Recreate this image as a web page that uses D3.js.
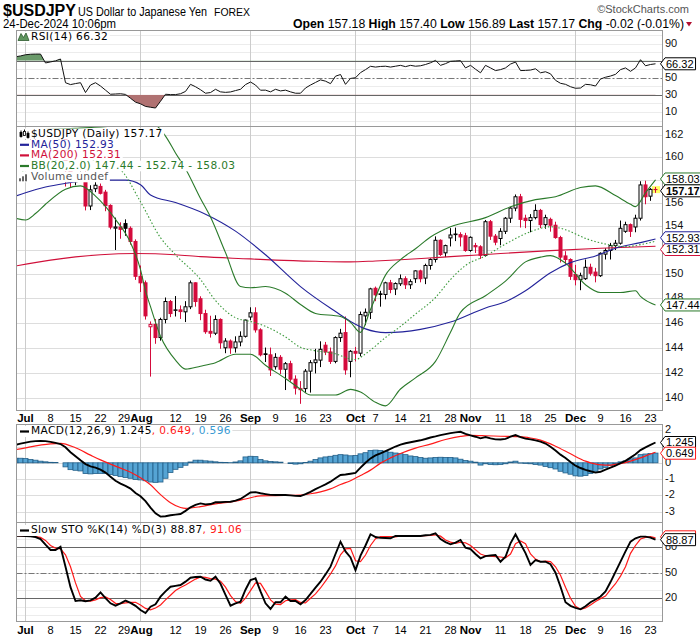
<!DOCTYPE html>
<html><head><meta charset="utf-8">
<script src="https://cdn.jsdelivr.net/npm/d3@7/dist/d3.min.js"></script>
<style>html,body{margin:0;padding:0;background:#fff;}svg{display:block;}</style>
</head><body>
<script>
// ================= DATA =================
const firstDay = "2024-06-27", lastDay = "2024-12-24";   // daily forex bars (Mon-Fri)

const open = [
 160.75,160.72,
 160.88,161.47,161.45,161.42,161.23, 160.78,160.83,161.32,161.68,158.83, 157.85,158.07,158.36,155.75,157.25, 157.45,156.95,155.80,153.85,153.95, 154.24,153.84,152.72,
 149.80,149.26, 145.67,145.86,144.80,146.26,147.72, 147.00,147.04,146.88,147.29,149.26, 147.95,146.74,145.30,145.15,146.26, 143.98,144.52,143.98,144.45,144.90,
 146.46,146.80,145.42,143.50,143.42, 142.48,143.22,142.28,142.72,141.50, 140.68,140.76,142.13,142.80,143.00, 144.19,143.65,142.90,144.80,145.20, 142.90,
 143.70,143.55,146.55,146.84, 148.81,148.35,148.30,149.26,148.75, 149.18,149.60,149.10,149.60,150.25, 149.65,150.70,151.20,152.82,151.76, 153.02,153.35,153.30,153.20,
 151.96, 152.37,152.27,151.55,154.40,153.17, 152.97,153.58,154.70,155.57,156.55, 154.70,154.50,154.75,155.37,154.15, 154.60,154.10,153.05,151.50,151.20,
 149.95,149.52,149.60,150.55,150.15, 149.85,151.65,151.96,152.37,152.57, 153.58,154.15,153.95,154.70,157.58, 156.60,157.18];
const high = [
 160.87,161.27,
 161.72,161.75,161.95,161.55,161.30, 161.05,161.45,161.78,161.76,159.45, 158.40,158.85,158.86,157.55,157.85, 157.70,157.15,155.90,154.75,154.35, 154.60,154.00,152.90,
 150.70,149.45, 146.10,146.30,146.40,148.05,147.85, 148.17,147.40,147.75,149.45,149.30, 148.15,147.05,146.56,146.60,146.35, 144.75,144.65,144.90,145.30,146.25,
 147.25,147.25,145.55,144.00,144.00, 143.55,143.40,142.85,142.95,141.80, 141.35,142.30,143.00,143.90,144.50, 144.45,144.00,144.90,145.50,146.50, 143.80,
 144.05,146.90,147.15,148.85, 148.95,148.60,149.35,149.50,149.30, 149.95,149.80,149.55,150.30,150.35, 150.85,151.30,153.15,152.90,152.45, 153.85,153.90,153.50,153.45,
 153.15, 152.60,152.40,154.55,154.55,153.35, 153.85,154.80,155.65,156.75,156.80, 155.00,155.05,155.90,155.50,155.00, 154.75,154.40,153.20,151.90,151.30,
 150.75,150.10,151.20,150.85,150.50, 151.80,152.15,152.60,152.85,154.50, 154.40,154.25,155.00,157.90,157.95, 157.30,157.40];
const low = [
 160.30,160.45,
 160.82,161.20,161.10,160.95,160.25, 160.30,160.80,161.20,157.44,157.38, 157.55,157.90,155.37,155.40,156.95, 156.75,155.30,153.75,152.00,152.95, 153.20,152.45,149.50,
 148.50,146.25, 141.70,144.30,144.55,145.95,146.45, 146.50,146.30,146.05,147.10,147.30, 146.20,145.10,144.80,145.00,143.90, 143.55,143.50,143.60,144.10,144.80,
 146.20,145.20,143.30,142.85,141.75, 142.25,141.90,140.65,141.30,140.30, 139.58,140.45,140.45,141.95,142.45, 143.40,142.70,142.75,144.45,141.85, 141.65,
 142.90,143.30,145.80,146.30, 147.75,147.30,147.90,148.40,148.25, 149.00,148.75,148.75,149.25,149.30, 149.15,150.35,150.95,151.50,151.40, 152.30,152.75,152.30,151.85,
 151.85, 151.75,151.25,151.45,152.85,152.40, 152.40,153.35,154.30,155.30,153.90, 153.85,153.50,154.60,153.85,153.80, 153.55,152.95,150.95,150.75,149.50,
 149.05,148.65,149.50,149.85,149.30, 149.75,151.20,151.20,152.00,152.45, 153.45,153.10,153.50,154.50,155.90, 156.20,156.89];
const close = [
 160.72,160.88,
 161.47,161.45,161.42,161.23,160.78, 160.83,161.32,161.68,158.83,157.85, 158.07,158.36,155.75,157.15,157.55, 156.85,155.78,153.94,153.95,153.75, 153.84,152.72,149.80,
 149.26,146.55, 145.86,144.80,146.26,147.72,146.74, 147.04,146.90,147.29,149.26,147.72, 146.74,145.27,145.15,146.26,144.38, 144.52,143.98,144.45,144.90,146.21,
 146.80,145.42,143.42,143.45,142.23, 143.22,142.28,142.72,141.50,140.80, 140.76,142.13,142.80,143.02,143.86, 143.65,142.90,144.80,145.15,142.23, 143.70,
 143.55,146.66,146.84,148.76, 148.27,148.30,149.26,148.71,149.20, 149.60,149.10,149.36,150.25,149.60, 150.70,151.20,152.82,151.62,152.37, 153.27,153.30,153.10,151.96,
 153.07, 152.27,151.55,154.40,153.17,152.66, 153.58,154.70,155.57,156.55,154.60, 154.50,154.75,155.37,154.15,154.75, 154.10,153.05,151.40,151.20,149.80,
 149.52,149.85,150.55,150.05,149.85, 151.72,151.96,152.37,152.57,153.84, 154.15,153.58,154.70,157.58,156.55, 157.19,157.17];

const rsi = [
 74.5,75.5,
 76.9,77.5,77.7,77.7,67.3, 68.5,69.8,71.9,44.2,42.0, 43.2,44.2,32.7,41.5,44.2, 40.3,35.5,30.7,31.0,31.3, 30.5,26.0,21.5,
 19.5,16.5, 15.5,14.6,22.5,30.7,30.3, 30.3,31.3,34.0,42.3,39.5, 36.0,31.9,32.7,36.5,33.5, 32.9,33.4,35.0,36.5,42.0,
 45.0,41.5,35.4,35.5,33.5, 36.5,34.6,35.5,33.5,31.9, 31.9,38.0,41.5,44.5,47.5, 46.0,43.1,51.8,53.8,42.3, 49.2,
 50.0,56.0,59.5,63.4, 62.5,63.2,63.5,62.5,63.5, 64.5,63.0,64.5,63.5,64.0, 65.5,67.5,70.3,64.5,66.5, 69.2,69.6,70.0,61.5,
 64.5, 60.0,55.8,64.5,61.5,58.4, 59.5,61.5,66.0,68.4,58.4, 58.6,59.0,60.5,55.8,57.0, 54.6,47.0,43.5,42.3,39.5,
 37.7,38.0,42.3,41.8,40.3, 48.5,50.6,52.0,54.0,59.5, 61.5,57.5,61.5,71.1,64.0, 65.5,66.32];

const macd = [
 1.10,1.18,
 1.24,1.30,1.33,1.34,1.33, 1.28,1.22,1.15,0.95,0.65, 0.40,0.15,-0.08,-0.22,-0.30, -0.42,-0.60,-0.85,-1.10,-1.28, -1.42,-1.58,-1.85,
 -2.05,-2.35, -2.75,-3.10,-3.30,-3.28,-3.22, -3.18,-3.14,-2.95,-2.73,-2.58, -2.49,-2.55,-2.53,-2.42,-2.42, -2.40,-2.39,-2.32,-2.22,-2.02,
 -1.82,-1.80,-1.87,-1.92,-1.97, -1.98,-1.98,-1.98,-2.00,-2.03, -2.04,-1.92,-1.78,-1.62,-1.47, -1.32,-1.16,-0.95,-0.75,-0.72, -0.67,
 -0.62,-0.30,0.00,0.27, 0.45,0.58,0.72,0.85,1.00, 1.12,1.20,1.26,1.32,1.38, 1.46,1.55,1.62,1.70,1.76, 1.82,1.87,1.90,1.78,
 1.68, 1.60,1.50,1.58,1.50,1.44, 1.43,1.47,1.60,1.70,1.58, 1.48,1.44,1.38,1.30,1.18, 0.98,0.75,0.50,0.30,0.05,
 -0.18,-0.32,-0.43,-0.52,-0.60, -0.55,-0.42,-0.30,-0.18,-0.02, 0.12,0.32,0.52,0.78,0.95, 1.10,1.245];
const macdHist = [
 0.28,0.28,
 0.26,0.20,0.16,0.10,0.06, 0.03,0.02,0.00,-0.25,-0.42, -0.46,-0.50,-0.66,-0.68,-0.66, -0.65,-0.66,-0.72,-0.78,-0.85, -0.90,-0.95,-1.02,
 -1.05,-1.10, -1.18,-1.20,-1.18,-0.95,-0.60, -0.40,-0.28,-0.15,0.05,0.16, 0.16,0.12,0.10,0.06,0.03, 0.02,0.01,0.05,0.12,0.36,
 0.40,0.38,0.20,0.12,0.08, 0.06,0.04,0.00,-0.05,-0.08, -0.06,0.02,0.10,0.20,0.30, 0.36,0.40,0.46,0.50,0.48, 0.43,
 0.45,0.55,0.62,0.76, 0.78,0.76,0.70,0.65,0.60, 0.56,0.50,0.42,0.38,0.32, 0.28,0.30,0.33,0.34,0.33, 0.33,0.30,0.22,0.14,
 0.10, 0.04,-0.14,-0.06,-0.10,-0.12, -0.10,-0.06,0.05,0.10,-0.02, -0.04,-0.06,-0.10,-0.14,-0.22, -0.30,-0.38,-0.52,-0.62,-0.70,
 -0.80,-0.82,-0.78,-0.66,-0.52, -0.38,-0.28,-0.16,-0.05,0.06, 0.12,0.24,0.30,0.50,0.54, 0.57,0.596];

const stoK = [
 93.5,93.3,
 93.2,92.8,92.0,89.6,83.0, 76.7,76.7,80.6,57.0,33.0, 16.7,17.5,16.5,17.5,20.6, 26.9,20.0,14.0,11.2,14.0, 17.1,14.5,11.0,
 6.1,2.5, 10.0,12.8,21.8,28.0,33.5, 34.5,35.5,39.5,44.1,45.0, 45.3,42.0,40.6,45.3,37.0, 24.0,11.2,14.0,15.9,30.0,
 41.4,43.4,28.0,14.0,7.3, 15.2,15.2,21.8,16.7,16.7, 12.8,17.9,25.0,32.5,39.4, 48.0,57.1,72.0,86.5,75.0, 68.0,
 53.0,70.0,82.0,95.2, 92.0,91.0,90.8,90.5,93.2, 93.2,93.2,93.2,93.2,93.2, 94.0,94.5,96.4,89.6,86.0, 83.4,85.5,88.5,79.4,
 77.9, 72.0,66.9,69.5,70.3,70.8, 62.9,68.8,84.6,95.2,84.0, 73.0,59.1,64.9,62.9,62.9, 60.0,50.0,33.5,15.2,11.0,
 8.5,6.9,10.5,15.2,18.5, 22.0,28.0,39.0,51.0,63.0, 75.0,86.5,90.5,92.4,92.4, 91.2,88.87];
const stoD = [
 93.5,93.4,
 93.3,93.0,92.5,91.5,88.0, 82.0,79.0,78.0,71.0,57.0, 38.0,22.0,17.0,16.5,18.0, 20.6,21.5,18.5,14.0,13.5, 14.5,15.0,15.2,
 12.0,8.0, 6.3,8.5,12.0,18.0,23.5, 29.0,32.5,35.5,39.0,42.5, 45.0,44.5,43.0,42.5,40.0, 33.0,23.0,16.0,14.0,20.0,
 29.0,38.0,37.5,28.0,18.0, 13.0,12.5,17.0,18.0,18.2, 15.0,14.5,20.0,25.0,32.0, 40.0,48.5,58.0,71.0,78.0, 78.7,
 64.0,63.0,70.8,82.0, 90.0,92.4,92.6,92.4,92.2, 93.2,93.2,93.2,93.2,93.4, 93.6,94.0,94.6,93.0,88.5, 86.0,84.5,85.8,85.2,
 82.0, 77.0,72.0,70.0,69.5,68.8, 68.5,67.5,72.0,84.0,87.3, 84.0,72.0,66.0,62.9,63.5, 63.0,57.0,47.0,33.0,20.0,
 10.5,7.0,8.5,12.0,16.0, 19.5,22.5,30.0,37.0,46.0, 57.0,72.8,82.0,89.6,91.5, 92.4,91.06];

// smooth overlays sampled on given days: [MM-DD, value]
const ma50 = [["06-27",156.6],["07-01",156.9],["07-05",157.4],["07-11",157.72],["07-18",158.0],["07-29",158.0],["08-01",157.6],["08-05",156.71],["08-12",156.05],["08-20",155.05],["08-28",153.6],["09-05",151.6],["09-16",148.95],["09-25",146.9],["09-30",146.1],["10-03",145.5],["10-09",145.2],["10-18",145.46],["10-28",146.05],["11-06",147.2],["11-12",147.7],["11-18",148.6],["11-25",150.1],["11-29",150.94],["12-06",151.5],["12-12",152.15],["12-19",152.62],["12-24",152.93]];
const ma200 = [["06-27",150.65],["07-08",151.15],["07-15",151.42],["07-22",151.6],["07-31",151.7],["08-12",151.6],["08-19",151.44],["09-02",151.25],["09-09",151.15],["09-19",151.05],["09-30",151.0],["10-07",151.08],["10-21",151.3],["10-28",151.44],["11-11",151.7],["11-25",151.95],["12-09",152.15],["12-24",152.31]];
const bbUpper = [["06-27",162.4],["07-15",162.6],["07-29",162.9],["08-02",163.1],["08-06",162.9],["08-08",161.9],["08-12",160.4],["08-14",159.0],["08-19",156.4],["08-21",154.8],["08-26",151.78],["08-29",148.95],["09-02",148.85],["09-05",148.95],["09-11",148.4],["09-16",147.48],["09-19",146.75],["09-26",146.5],["09-30",146.02],["10-02",145.22],["10-04",147.07],["10-09",149.9],["10-14",151.19],["10-17",152.1],["10-22",153.1],["10-28",153.97],["11-06",154.75],["11-13",155.68],["11-20",156.3],["11-26",156.55],["12-03",157.35],["12-06",157.5],["12-12",156.65],["12-17",155.9],["12-18",155.7],["12-20",156.9],["12-24",158.03]];
const bbMid = [["06-27",158.5],["07-08",159.6],["07-15",160.1],["07-19",159.7],["07-24",159.3],["07-26",158.9],["08-01",156.11],["08-07",153.04],["08-12",151.6],["08-19",149.53],["08-22",147.8],["08-28",146.4],["09-02",146.1],["09-05",145.7],["09-11",144.85],["09-16",144.02],["09-19",143.75],["09-25",143.5],["09-30",143.1],["10-01",143.05],["10-03",143.5],["10-09",144.8],["10-14",145.7],["10-17",146.7],["10-23",148.05],["10-28",149.53],["10-31",150.7],["11-06",151.5],["11-12",152.5],["11-19",153.55],["11-25",153.97],["11-28",153.72],["12-04",152.98],["12-10",152.5],["12-16",152.28],["12-19",152.45],["12-24",152.74]];
const bbLower = [["06-27",154.7],["07-01",154.55],["07-03",155.1],["07-05",155.9],["07-11",157.2],["07-16",157.5],["07-19",156.6],["07-25",154.6],["07-30",152.62],["08-01",150.36],["08-02",148.6],["08-05",147.3],["08-07",144.9],["08-12",143.0],["08-14",142.29],["08-19",142.52],["08-22",142.8],["08-28",143.47],["09-02",143.47],["09-05",142.6],["09-11",141.55],["09-16",140.73],["09-18",140.26],["09-25",140.26],["09-30",140.7],["10-02",140.49],["10-07",139.7],["10-09",139.42],["10-14",140.73],["10-17",141.6],["10-23",142.9],["10-28",145.22],["10-30",146.83],["11-06",148.2],["11-12",149.4],["11-18",151.0],["11-21",151.4],["11-25",151.53],["11-28",150.9],["12-04",149.1],["12-09",148.46],["12-13",148.46],["12-18",148.6],["12-19",148.14],["12-24",147.44]];
const macdSignal = [["06-27",0.80],["07-01",0.92],["07-08",1.16],["07-10",1.19],["07-15",0.92],["07-18",0.47],["07-22",0.18],["07-24",-0.08],["07-26",-0.33],["07-30",-0.58],["08-01",-0.92],["08-05",-1.35],["08-07",-1.95],["08-09",-2.45],["08-13",-2.74],["08-14",-2.79],["08-19",-2.69],["08-22",-2.52],["08-27",-2.4],["08-30",-2.22],["09-04",-2.03],["09-09",-2.01],["09-16",-1.98],["09-18",-1.9],["09-20",-1.78],["09-24",-1.6],["09-26",-1.33],["09-30",-1.1],["10-02",-0.78],["10-04",-0.45],["10-08",-0.02],["10-10",0.3],["10-14",0.57],["10-17",0.9],["10-22",1.15],["10-25",1.43],["10-30",1.62],["11-01",1.68],["11-06",1.66],["11-11",1.63],["11-15",1.6],["11-19",1.52],["11-21",1.39],["11-26",1.02],["11-29",0.55],["12-04",0.1],["12-05",0.0],["12-10",-0.14],["12-11",-0.14],["12-13",-0.05],["12-17",0.1],["12-19",0.3],["12-23",0.54],["12-24",0.649]];

// axes / labels
const xTickLabels = [["07-01","Jul"],["07-08","8"],["07-15","15"],["07-22","22"],["07-29","29"],["08-01","Aug"],["08-12","12"],["08-19","19"],["08-26","26"],["09-02","Sep"],["09-09","9"],["09-16","16"],["09-23","23"],["10-01","Oct"],["10-07","7"],["10-14","14"],["10-21","21"],["10-28","28"],["11-01","Nov"],["11-11","11"],["11-18","18"],["11-25","25"],["12-02","Dec"],["12-09","9"],["12-16","16"],["12-23","23"]];
const monthStarts = ["07-01","08-01","09-02","10-01","11-01","12-02"];
const priceGrid = [140,142,144,146,148,150,152,154,156,158,160,162];
const priceTicks = [140,142,144,146,148,150,152,154,156,160,162];   // 158 sits behind the BB value tag
const rsiTicks = [90,50,30,10];          // 70 sits behind the RSI value tag
const macdTicks = [2,0,-1,-2,-3];        // 1 sits behind the MACD value tag
const macdGrid = [2,1,0,-1,-2,-3];
const stoTicks = [80,50,20];

const title = {sym:"$USDJPY", name:"US Dollar to Japanese Yen", exch:"FOREX", stamp:"24-Dec-2024 10:06pm", brand:"\u00a9StockCharts.com"};
const quote = [["Open","157.18"],["High","157.40"],["Low","156.89"],["Last","157.17"],["Chg","-0.02 (-0.01%)"]];
const legendVals = {rsi:"66.32", last:"157.17", ma50:"152.93", ma200:"152.31", bbLo:"147.44", bbMid:"152.74", bbUp:"158.03", macd:"1.245", sig:"0.649", hist:"0.596", k:"88.87", d:"91.06"};

// ================= DRAW =================
const W = 700, H = 639;
const L = 16.5, R = 662.5;
const P = {rsi:[30.5,126.5], price:[126.5,410.5], macd:[424.5,522.5], sto:[522.5,621.5]};
const SANS = "'Liberation Sans', Arial, sans-serif";
const LEG = "'DejaVu Sans', Verdana, sans-serif";
const LEGSIZE = 10.6, LEGSPACE = 0.35;
const RED = "#d40b3c", NAVY = "#23239a", CRIMSON = "#d0103a", GREEN = "#2a7a2a", GRID = "#dddddd", FAINT = "#ececec", MONTH = "#cccccc";

const svg = d3.select("body").append("svg").attr("width", W).attr("height", H).attr("font-family", SANS);
const defs = svg.append("defs");

const fmt = d3.utcFormat("%m-%d");
const days = d3.utcDay.range(new Date(firstDay + "T00:00Z"), d3.utcDay.offset(new Date(lastDay + "T00:00Z"), 1))
  .filter(d => d.getUTCDay() !== 0 && d.getUTCDay() !== 6).map(fmt);
const x = d3.scalePoint().domain(days).range([15.5, 655.5]);

const yRsi = d3.scaleLinear().domain([0, 100]).range([120.5, 35]);
const yPrice = d3.scaleLog().domain([140, 162]).range([398.4, 135]);
const yMacd = d3.scaleLinear().domain([-3, 2]).range([511.7, 430.2]);
const ySto = d3.scaleLinear().domain([0, 100]).range([615.2, 530.2]);

function clip(id, p) {
  defs.append("clipPath").attr("id", id).append("rect").attr("x", L + 0.5).attr("y", p[0] + 0.5).attr("width", R - L - 1).attr("height", p[1] - p[0] - 1);
  return "url(#" + id + ")";
}
const cRsi = clip("cRsi", P.rsi), cPrice = clip("cPrice", P.price), cMacd = clip("cMacd", P.macd), cSto = clip("cSto", P.sto);

function hline(g, y, color, dash, w) {
  g.append("line").attr("x1", L).attr("x2", R).attr("y1", Math.round(y) + 0.5).attr("y2", Math.round(y) + 0.5)
    .attr("stroke", color).attr("stroke-width", w || 1).attr("stroke-dasharray", dash || null);
}
function monthLines(g, p) {
  monthStarts.forEach(m => {
    const xx = Math.floor(x(m)) + 0.5;
    g.append("line").attr("x1", xx).attr("x2", xx).attr("y1", p[0]).attr("y2", p[1]).attr("stroke", MONTH);
  });
}
function rightLabels(ticks, y) {
  ticks.forEach(t => svg.append("text").attr("x", 665).attr("y", y(t) - 1).attr("dy", "0.36em").attr("font-size", 11).attr("fill", "#111").text(t));
}
const lineGen = (y) => d3.line().x((d, i) => x(days[i])).y(d => y(d));
const pairLine = (y) => d3.line().x(d => x(d[0])).y(d => y(d[1])).curve(d3.curveMonotoneX);

// ---------- header ----------
svg.append("text").attr("x", 3).attr("y", 16).attr("font-size", 16).attr("font-weight", "bold").text(title.sym);
svg.append("text").attr("x", 78).attr("y", 16).attr("font-size", 12).attr("textLength", 129).attr("lengthAdjust", "spacingAndGlyphs").text(title.name);
svg.append("text").attr("x", 214).attr("y", 16).attr("font-size", 10).attr("textLength", 36).attr("lengthAdjust", "spacingAndGlyphs").text(title.exch);
svg.append("text").attr("x", 689).attr("y", 13).attr("font-size", 11).attr("fill", "#555").attr("text-anchor", "end").text(title.brand);
svg.append("text").attr("x", 3).attr("y", 27.5).attr("font-size", 12).attr("textLength", 113).attr("lengthAdjust", "spacingAndGlyphs").text(title.stamp);
const q = svg.append("text").attr("x", 684).attr("y", 27.5).attr("font-size", 12).attr("text-anchor", "end").attr("textLength", 391).attr("lengthAdjust", "spacingAndGlyphs");
quote.forEach((p, i) => {
  q.append("tspan").attr("font-weight", "bold").text((i ? " " : "") + p[0] + " ");
  q.append("tspan").text(p[1]);
});
svg.append("path").attr("d", "M686,22 L692,22 L689,26.5 Z").attr("fill", "#b01030");

// ---------- RSI panel ----------
const gR = svg.append("g");
d3.range(0, 101, 10).filter(v => v !== 30 && v !== 50 && v !== 70).forEach(v => hline(gR, yRsi(v), FAINT));
monthLines(gR, P.rsi);
hline(gR, yRsi(70), "#666"); hline(gR, yRsi(30), "#666"); hline(gR, yRsi(50), "#777", "6,2,2,2");
const rsiArea = (base) => d3.area().x((d, i) => x(days[i])).y0(yRsi(base)).y1(d => yRsi(d));
defs.append("clipPath").attr("id", "cAbove").append("rect").attr("x", L).attr("y", P.rsi[0]).attr("width", R - L).attr("height", yRsi(70) - P.rsi[0]);
defs.append("clipPath").attr("id", "cBelow").append("rect").attr("x", L).attr("y", yRsi(30)).attr("width", R - L).attr("height", P.rsi[1] - yRsi(30));
const gRc = svg.append("g").attr("clip-path", cRsi);
gRc.append("path").datum(rsi).attr("clip-path", "url(#cAbove)").attr("d", rsiArea(70)).attr("fill", "#6a9a6a");
gRc.append("path").datum(rsi).attr("clip-path", "url(#cBelow)").attr("d", rsiArea(30)).attr("fill", "#b07272");
gRc.append("path").datum(rsi).attr("d", lineGen(yRsi)).attr("fill", "none").attr("stroke", "#111").attr("stroke-width", 1);
svg.append("rect").attr("x", L).attr("y", P.rsi[0]).attr("width", R - L).attr("height", P.rsi[1] - P.rsi[0]).attr("fill", "none").attr("stroke", "#999");
rightLabels(rsiTicks, yRsi);

// ---------- Price panel ----------
const gP = svg.append("g");
priceGrid.forEach(v => hline(gP, yPrice(v), GRID));
monthLines(gP, P.price);
const gPc = svg.append("g").attr("clip-path", cPrice);
const lastD = days[days.length - 1];
gPc.append("rect").attr("x", Math.floor(x(lastD)) - 3).attr("y", yPrice(close[close.length - 1]) - 3.5).attr("width", 8).attr("height", 7).attr("fill", "#ffff66");
days.forEach((d, k) => {
  const o = open[k], h = high[k], l = low[k], c = close[k];
  const pc = k > 0 ? close[k - 1] : o;
  const col = c >= pc ? "#000" : RED;
  const filled = c < o;
  const cx = Math.floor(x(d));
  gPc.append("line").attr("x1", cx + 0.5).attr("x2", cx + 0.5).attr("y1", yPrice(h)).attr("y2", yPrice(l)).attr("stroke", col);
  const yT = yPrice(Math.max(o, c)), yB = yPrice(Math.min(o, c));
  gPc.append("rect").attr("x", cx - 1).attr("y", yT).attr("width", 3).attr("height", Math.max(yB - yT, 0.01))
    .attr("fill", filled ? col : "#fff").attr("stroke", col).attr("stroke-width", 1);
});
gPc.append("path").datum(ma200).attr("d", pairLine(yPrice)).attr("fill", "none").attr("stroke", CRIMSON).attr("stroke-width", 1.1);
gPc.append("path").datum(ma50).attr("d", pairLine(yPrice)).attr("fill", "none").attr("stroke", NAVY).attr("stroke-width", 1.1);
gPc.append("path").datum(bbMid).attr("d", pairLine(yPrice)).attr("fill", "none").attr("stroke", "#3c9a3c").attr("stroke-width", 1.1).attr("stroke-dasharray", "1.5,2");
gPc.append("path").datum(bbUpper).attr("d", pairLine(yPrice)).attr("fill", "none").attr("stroke", GREEN).attr("stroke-width", 1.1);
gPc.append("path").datum(bbLower).attr("d", pairLine(yPrice)).attr("fill", "none").attr("stroke", GREEN).attr("stroke-width", 1.1);

function legendRow(y0, h, parts, icon) {
  const g = svg.append("g");
  const bg = g.append("rect").attr("x", L + 0.5).attr("y", y0).attr("height", h).attr("fill", "#fff");
  const t = g.append("text").attr("x", 31).attr("y", y0 + h - 2.6).attr("font-family", LEG).attr("font-size", LEGSIZE).attr("letter-spacing", LEGSPACE);
  parts.forEach(p => t.append("tspan").attr("fill", p[1]).text(p[0]));
  const w = t.node().getComputedTextLength();
  bg.attr("width", 31 + w + 1 - L);
  if (icon) icon(g, y0, h);
  return g;
}
const dashIcon = (col) => (g, y0, h) => g.append("line").attr("x1", 20).attr("x2", 29).attr("y1", y0 + h / 2).attr("y2", y0 + h / 2).attr("stroke", col).attr("stroke-width", 2.2);
legendRow(128.5, 11, [["$USDJPY (Daily) " + legendVals.last, "#000"]], (g, y0) => {
  [[20, 2, 8, true], [23.5, 1, 6, false], [27, 3, 9, true]].forEach(c => {
    g.append("line").attr("x1", c[0] + 1).attr("x2", c[0] + 1).attr("y1", y0 + c[1]).attr("y2", y0 + c[2] + 1).attr("stroke", "#000");
    g.append("rect").attr("x", c[0]).attr("y", y0 + c[1] + 2).attr("width", 2).attr("height", 4).attr("fill", c[3] ? "#000" : "#fff").attr("stroke", "#000").attr("stroke-width", 0.8);
  });
});
legendRow(139.5, 10.6, [["MA(50) " + legendVals.ma50, NAVY]], dashIcon(NAVY));
legendRow(150.1, 10.6, [["MA(200) " + legendVals.ma200, CRIMSON]], dashIcon(CRIMSON));
legendRow(160.7, 10.6, [["BB(20,2.0) " + legendVals.bbLo + " - " + legendVals.bbMid + " - " + legendVals.bbUp, GREEN]], dashIcon(GREEN));
legendRow(171.3, 11, [["Volume undef", "#555"]], (g, y0) => {
  [[19, 5], [22, 3], [25, 1]].forEach(b => g.append("rect").attr("x", b[0]).attr("y", y0 + 2 + b[1]).attr("width", 2).attr("height", 8 - b[1]).attr("fill", "#666"));
});
svg.append("rect").attr("x", L).attr("y", P.price[0]).attr("width", R - L).attr("height", P.price[1] - P.price[0]).attr("fill", "none").attr("stroke", "#999");
rightLabels(priceTicks, yPrice);

// ---------- MACD panel ----------
const gM = svg.append("g");
macdGrid.forEach(v => hline(gM, yMacd(v), GRID));
monthLines(gM, P.macd);
const gMc = svg.append("g").attr("clip-path", cMacd);
days.forEach((d, k) => {
  const v = macdHist[k], y0 = yMacd(0), y1 = yMacd(v);
  gMc.append("rect").attr("x", x(d) - 2.5).attr("y", Math.min(y0, y1)).attr("width", 5).attr("height", Math.abs(y1 - y0))
    .attr("fill", "#55a4d4").attr("stroke", "#235f88").attr("stroke-width", 0.8);
});
gMc.append("path").datum(macdSignal).attr("d", pairLine(yMacd)).attr("fill", "none").attr("stroke", "#ff1a1a").attr("stroke-width", 1.2);
gMc.append("path").datum(macd).attr("d", lineGen(yMacd)).attr("fill", "none").attr("stroke", "#000").attr("stroke-width", 1.9);
legendRow(426, 11, [["MACD(12,26,9) " + legendVals.macd, "#000"], [", " + legendVals.sig, "#ff1a1a"], [", " + legendVals.hist, "#3a9ad2"]], dashIcon("#000"));
svg.append("rect").attr("x", L).attr("y", P.macd[0]).attr("width", R - L).attr("height", P.macd[1] - P.macd[0]).attr("fill", "none").attr("stroke", "#999");
rightLabels(macdTicks, yMacd);

// ---------- Slow STO panel ----------
const gS = svg.append("g");
d3.range(0, 101, 10).forEach(v => hline(gS, ySto(v), FAINT));
monthLines(gS, P.sto);
hline(gS, ySto(80), "#666"); hline(gS, ySto(20), "#666"); hline(gS, ySto(50), "#777", "6,2,2,2");
const gSc = svg.append("g").attr("clip-path", cSto);
gSc.append("path").datum(stoD).attr("d", lineGen(ySto)).attr("fill", "none").attr("stroke", "#ff1a1a").attr("stroke-width", 1.2);
gSc.append("path").datum(stoK).attr("d", lineGen(ySto)).attr("fill", "none").attr("stroke", "#000").attr("stroke-width", 1.9);
legendRow(525, 11, [["Slow STO %K(14) %D(3) " + legendVals.k, "#000"], [", " + legendVals.d, "#ff1a1a"]], dashIcon("#000"));
svg.append("rect").attr("x", L).attr("y", P.sto[0]).attr("width", R - L).attr("height", P.sto[1] - P.sto[0]).attr("fill", "none").attr("stroke", "#999");
rightLabels(stoTicks, ySto);

legendRow(31.5, 11, [["RSI(14) " + legendVals.rsi, "#000"]], (g, y0) => {
  g.append("path").attr("d", `M18,${y0 + 9} L21,${y0 + 2} L23.5,${y0 + 6} L26,${y0 + 1.5} L29,${y0 + 9} Z`).attr("fill", "#5f955f").attr("stroke", "#2d5a2d").attr("stroke-width", 0.8);
});

// ---------- x axes ----------
function xLabels(baseY) {
  xTickLabels.forEach(t => {
    const isMonth = isNaN(+t[1]);
    const shift = t[1] === "29" ? -1.5 : (t[1] === "Aug" ? 1 : 0);
    svg.append("text").attr("x", x(t[0]) + shift).attr("y", baseY).attr("text-anchor", "middle")
      .attr("font-size", isMonth ? 11.5 : 11).attr("font-weight", isMonth ? "bold" : null).text(t[1]);
  });
}
xLabels(421.5);
xLabels(633.5);

// ---------- value tags ----------
function tag(y, txt, color, bold, showText) {
  const g = svg.append("g");
  const t = g.append("text").attr("x", 666).attr("y", y).attr("dy", "0.36em").attr("font-size", 11).attr("font-weight", bold ? "bold" : null).text(txt);
  const w = t.node().getComputedTextLength();
  if (showText === false) t.remove();
  g.insert("path", "text").attr("d", `M660.5,${y} L665,${y - 6} L${668 + w},${y - 6} L${668 + w},${y + 6} L665,${y + 6} Z`)
    .attr("fill", "#fff").attr("stroke", color).attr("stroke-width", 1);
}
tag(yRsi(+legendVals.rsi), legendVals.rsi, "#000");
tag(yPrice(+legendVals.bbUp) - 0.8, legendVals.bbUp, GREEN);
tag(yPrice(+legendVals.last) + 1.2, legendVals.last, "#000", true);
tag(yPrice(+legendVals.ma200) + 3.2, legendVals.ma200, CRIMSON);
tag(yPrice(+legendVals.ma50) - 1.2, legendVals.ma50, NAVY);
tag(yPrice(+legendVals.bbLo), legendVals.bbLo, GREEN);
tag(yMacd(+legendVals.macd), legendVals.macd, "#000");
tag(yMacd(+legendVals.sig) + 1, legendVals.sig, "#ff1a1a");
tag(ySto(+legendVals.d) - 1, legendVals.d, "#ff1a1a", false, false);
tag(ySto(+legendVals.k), legendVals.k, "#000");
</script>
</body></html>
